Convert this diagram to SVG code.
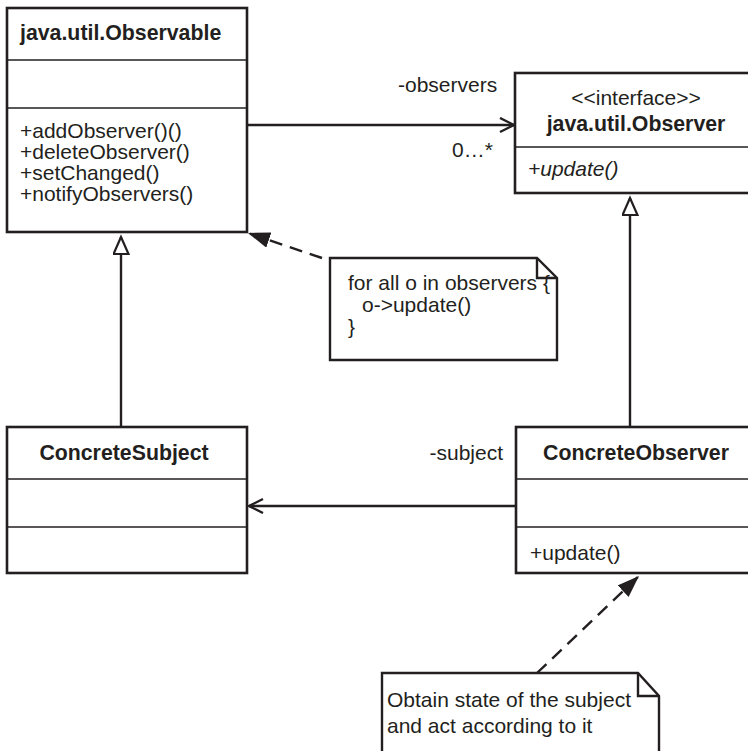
<svg xmlns="http://www.w3.org/2000/svg" width="748" height="751" viewBox="0 0 748 751">
  <style>
    .box { fill: #fff; stroke: #231f20; stroke-width: 2.6; }
    .sep { stroke: #231f20; stroke-width: 1.4; fill: none; }
    .conn { stroke: #231f20; stroke-width: 2.4; fill: none; }
    .dash { stroke: #231f20; stroke-width: 2.4; fill: none; stroke-dasharray: 13 8; }
    .note { fill: #fff; stroke: #231f20; stroke-width: 2.4; stroke-linejoin: miter; }
    .fold { fill: none; stroke: #231f20; stroke-width: 2.4; }
    text { font-family: "Liberation Sans", Arial, sans-serif; fill: #231f20; font-size: 21px; }
    .title { font-weight: bold; font-size: 21.3px; }
    .mid { text-anchor: middle; }
    .end { text-anchor: end; }
    .ital { font-style: italic; }
  </style>
  <defs>
    <marker id="open" markerWidth="20" markerHeight="20" refX="15" refY="8" orient="auto" markerUnits="userSpaceOnUse">
      <path d="M1,1 L15,8 L1,15" fill="none" stroke="#231f20" stroke-width="2.4"/>
    </marker>
    <marker id="hollow" markerWidth="22" markerHeight="20" refX="18" refY="8.5" orient="auto" markerUnits="userSpaceOnUse">
      <path d="M18,8.5 L1,1 L1,16 Z" fill="#fff" stroke="#231f20" stroke-width="2.2"/>
    </marker>
    <marker id="solid" markerWidth="24" markerHeight="20" refX="22" refY="8" orient="auto" markerUnits="userSpaceOnUse">
      <path d="M0,0 L22,8 L0,16 Z" fill="#231f20"/>
    </marker>
  </defs>
  <rect width="748" height="751" fill="#fff"/>

  <g id="connectors">
    <!-- association Observable -> Observer -->
    <line class="conn" x1="248" y1="125" x2="514" y2="125" marker-end="url(#open)"/>
    <!-- generalisations -->
    <line class="conn" x1="121" y1="427" x2="121" y2="237" marker-end="url(#hollow)"/>
    <line class="conn" x1="630" y1="427" x2="630" y2="198" marker-end="url(#hollow)"/>
    <!-- association ConcreteObserver -> ConcreteSubject -->
    <line class="conn" x1="516" y1="506" x2="249" y2="506" marker-end="url(#open)"/>
    <!-- note anchors -->
    <line class="dash" x1="322" y1="258" x2="248" y2="233" marker-end="url(#solid)"/>
    <line class="dash" x1="537" y1="673" x2="639" y2="576" marker-end="url(#solid)"/>
  </g>

  <g id="observable">
    <rect class="box" x="7" y="8" width="240" height="224"/>
    <line class="sep" x1="7" y1="60" x2="247" y2="60"/>
    <line class="sep" x1="7" y1="108" x2="247" y2="108"/>
    <text class="title" x="20" y="40">java.util.Observable</text>
    <text x="20" y="138">+addObserver()()</text>
    <text x="20" y="159">+deleteObserver()</text>
    <text x="20" y="180">+setChanged()</text>
    <text x="20" y="201">+notifyObservers()</text>
  </g>

  <g id="observer">
    <rect class="box" x="515" y="73" width="242" height="120"/>
    <line class="sep" x1="515" y1="147" x2="757" y2="147"/>
    <text class="mid" x="636" y="105">&lt;&lt;interface&gt;&gt;</text>
    <text class="title mid" x="636" y="131">java.util.Observer</text>
    <text class="ital" x="528" y="176">+update()</text>
  </g>

  <g id="labels">
    <text x="398" y="92">-observers</text>
    <text x="452" y="157">0…*</text>
    <text class="end" x="503" y="460">-subject</text>
  </g>

  <g id="note-notify">
    <path class="note" d="M330,258 H537 L557,278 V360 H330 Z"/>
    <path class="fold" d="M537,258 V278 H557"/>
    <text x="348" y="290">for all o in observers {</text>
    <text x="362" y="312">o-&gt;update()</text>
    <text x="348" y="334">}</text>
  </g>

  <g id="concrete-subject">
    <rect class="box" x="7" y="427" width="240" height="146"/>
    <line class="sep" x1="7" y1="479" x2="247" y2="479"/>
    <line class="sep" x1="7" y1="527" x2="247" y2="527"/>
    <text class="title mid" x="124" y="460">ConcreteSubject</text>
  </g>

  <g id="concrete-observer">
    <rect class="box" x="516" y="427" width="241" height="146"/>
    <line class="sep" x1="516" y1="479" x2="757" y2="479"/>
    <line class="sep" x1="516" y1="527" x2="757" y2="527"/>
    <text class="title mid" x="636" y="460">ConcreteObserver</text>
    <text x="530" y="560">+update()</text>
  </g>

  <g id="note-state">
    <path class="note" d="M382,673 H638 L659,696 V760 H382 Z"/>
    <path class="fold" d="M638,673 V696 H659"/>
    <text x="387" y="707">Obtain state of the subject</text>
    <text x="387" y="733">and act according to it</text>
  </g>
</svg>
